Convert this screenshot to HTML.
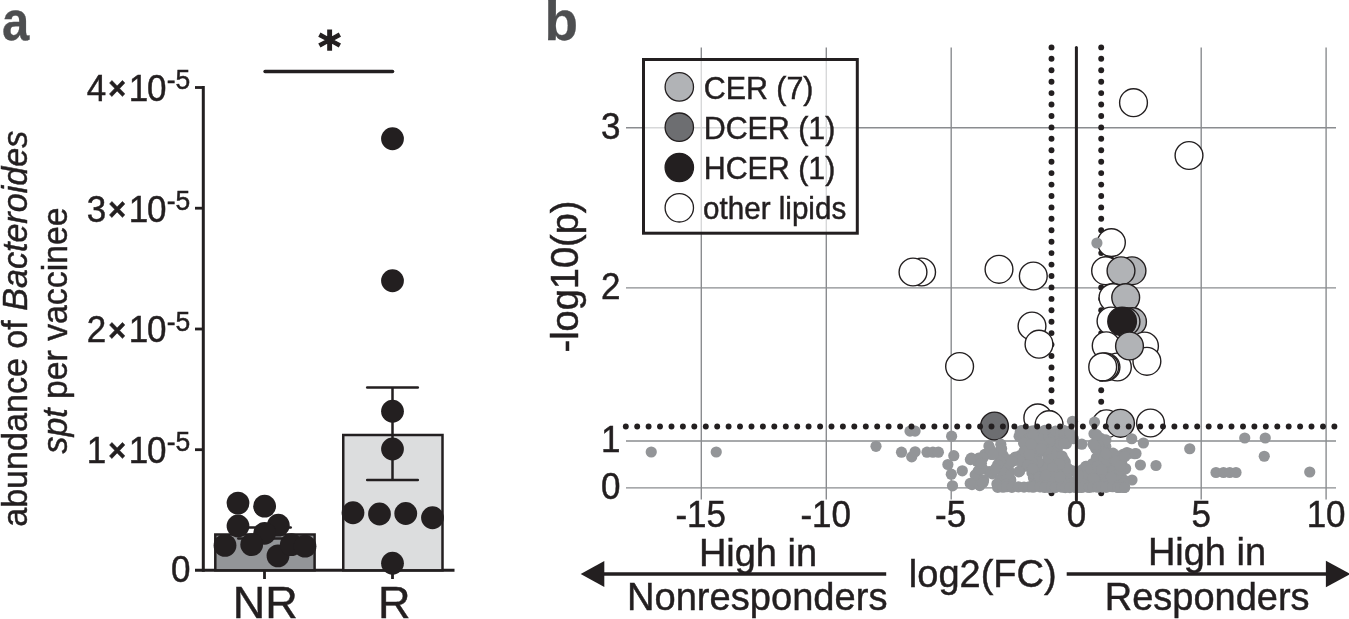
<!DOCTYPE html>
<html><head><meta charset="utf-8"><title>Figure</title>
<style>html,body{margin:0;padding:0;background:#fff;overflow:hidden}svg{display:block;font-family:"Liberation Sans",sans-serif}text{stroke:#231f20;stroke-width:.45px}text.pl{stroke:#4d4e50;stroke-width:.3px}</style>
</head><body>
<svg width="1349" height="619" viewBox="0 0 1349 619">
<rect width="1349" height="619" fill="#fff"/>
<text transform="translate(2.1,40.2) scale(0.875,0.985)" font-size="56" font-weight="bold" class="pl" fill="#4d4e50">a</text>
<text transform="translate(544.5,40.2) scale(0.98,0.985)" font-size="56" font-weight="bold" class="pl" fill="#4d4e50">b</text>
<text transform="translate(26.5,328.8) rotate(-90) scale(1,1.04)" font-size="34.1" text-anchor="middle" fill="#231f20">abundance of <tspan font-style="italic">Bacteroides</tspan></text>
<text transform="translate(66.5,330.5) rotate(-90) scale(1,1.04)" font-size="33.8" text-anchor="middle" fill="#231f20"><tspan font-style="italic">spt</tspan> per vaccinee</text>
<line x1="203.3" y1="86" x2="203.3" y2="571.8" stroke="#231f20" stroke-width="3"/>
<line x1="195" y1="570.3" x2="454.5" y2="570.3" stroke="#231f20" stroke-width="3"/>
<line x1="195" y1="87.5" x2="203.3" y2="87.5" stroke="#231f20" stroke-width="2.8"/>
<text transform="translate(0,100.9) scale(1,1.04)" font-size="35" fill="#231f20"><tspan x="86.8">4</tspan><tspan x="108.3" dy="-1.7" font-size="30.5" font-weight="bold">×</tspan><tspan x="128.85" dy="1.7">1</tspan><tspan x="147">0</tspan><tspan x="166.7" dy="-11.35" font-size="26.5">-5</tspan></text>
<line x1="195" y1="208.2" x2="203.3" y2="208.2" stroke="#231f20" stroke-width="2.8"/>
<text transform="translate(0,221.6) scale(1,1.04)" font-size="35" fill="#231f20"><tspan x="86.8">3</tspan><tspan x="108.3" dy="-1.7" font-size="30.5" font-weight="bold">×</tspan><tspan x="128.85" dy="1.7">1</tspan><tspan x="147">0</tspan><tspan x="166.7" dy="-11.35" font-size="26.5">-5</tspan></text>
<line x1="195" y1="329" x2="203.3" y2="329" stroke="#231f20" stroke-width="2.8"/>
<text transform="translate(0,342.4) scale(1,1.04)" font-size="35" fill="#231f20"><tspan x="86.8">2</tspan><tspan x="108.3" dy="-1.7" font-size="30.5" font-weight="bold">×</tspan><tspan x="128.85" dy="1.7">1</tspan><tspan x="147">0</tspan><tspan x="166.7" dy="-11.35" font-size="26.5">-5</tspan></text>
<line x1="195" y1="449.7" x2="203.3" y2="449.7" stroke="#231f20" stroke-width="2.8"/>
<text transform="translate(0,463.1) scale(1,1.04)" font-size="35" fill="#231f20"><tspan x="86.8">1</tspan><tspan x="108.3" dy="-1.7" font-size="30.5" font-weight="bold">×</tspan><tspan x="128.85" dy="1.7">1</tspan><tspan x="147">0</tspan><tspan x="166.7" dy="-11.35" font-size="26.5">-5</tspan></text>
<text transform="translate(190.5,582.4) scale(1,1.04)" font-size="35" text-anchor="end" fill="#231f20">0</text>
<line x1="264.5" y1="570" x2="264.5" y2="579" stroke="#231f20" stroke-width="2.8"/>
<line x1="392.5" y1="570" x2="392.5" y2="579" stroke="#231f20" stroke-width="2.8"/>
<rect x="215.3" y="534.5" width="99.30000000000001" height="35.799999999999955" fill="#939598" stroke="#231f20" stroke-width="2.5"/>
<rect x="343.25" y="435" width="99.25" height="135.29999999999995" fill="#dcddde" stroke="#231f20" stroke-width="2.5"/>
<line x1="264.5" y1="527.6" x2="264.5" y2="538.6" stroke="#231f20" stroke-width="2.5"/>
<line x1="238.3" y1="527.6" x2="290.7" y2="527.6" stroke="#231f20" stroke-width="2.5" stroke-linecap="round"/>
<line x1="238.3" y1="538.6" x2="290.7" y2="538.6" stroke="#231f20" stroke-width="2.5" stroke-linecap="round"/>
<line x1="392.5" y1="387.5" x2="392.5" y2="480" stroke="#231f20" stroke-width="2.5"/>
<line x1="367.2" y1="387.5" x2="417.8" y2="387.5" stroke="#231f20" stroke-width="2.5" stroke-linecap="round"/>
<line x1="367.2" y1="480" x2="417.8" y2="480" stroke="#231f20" stroke-width="2.5" stroke-linecap="round"/>
<circle cx="238" cy="503.1" r="11.4" fill="#231f20"/>
<circle cx="264.6" cy="506.2" r="11.4" fill="#231f20"/>
<circle cx="238" cy="526" r="11.4" fill="#231f20"/>
<circle cx="278.3" cy="525.2" r="11.4" fill="#231f20"/>
<circle cx="264.6" cy="533.3" r="11.4" fill="#231f20"/>
<circle cx="225" cy="545.4" r="11.4" fill="#231f20"/>
<circle cx="251.7" cy="544.6" r="11.4" fill="#231f20"/>
<circle cx="278" cy="555.9" r="11.4" fill="#231f20"/>
<circle cx="291.3" cy="544.6" r="11.4" fill="#231f20"/>
<circle cx="305" cy="546.2" r="11.4" fill="#231f20"/>
<circle cx="392.5" cy="138.75" r="11.4" fill="#231f20"/>
<circle cx="392.5" cy="280.75" r="11.4" fill="#231f20"/>
<circle cx="392.5" cy="411.25" r="11.4" fill="#231f20"/>
<circle cx="392.5" cy="449" r="11.4" fill="#231f20"/>
<circle cx="353" cy="512.75" r="11.4" fill="#231f20"/>
<circle cx="379.5" cy="514" r="11.4" fill="#231f20"/>
<circle cx="405.75" cy="513.5" r="11.4" fill="#231f20"/>
<circle cx="432.5" cy="517.75" r="11.4" fill="#231f20"/>
<circle cx="392.5" cy="563.25" r="11.4" fill="#231f20"/>
<text transform="translate(265.2,617.6) scale(1,0.985)" font-size="45" text-anchor="middle" fill="#231f20">NR</text>
<text transform="translate(394.2,617.6) scale(1,0.985)" font-size="45" text-anchor="middle" fill="#231f20">R</text>
<line x1="265.05" y1="71.5" x2="392.55" y2="71.5" stroke="#231f20" stroke-width="3.5" stroke-linecap="round"/>
<text x="318.2" y="61.6" font-size="43.5" font-weight="bold" font-family="DejaVu Sans, sans-serif" fill="#231f20" style="stroke-width:1.3px">*</text>
<line x1="701.3" y1="47.5" x2="701.3" y2="499.5" stroke="#8a8c8f" stroke-width="1.4"/>
<line x1="826.3" y1="47.5" x2="826.3" y2="499.5" stroke="#8a8c8f" stroke-width="1.4"/>
<line x1="951.2" y1="47.5" x2="951.2" y2="499.5" stroke="#8a8c8f" stroke-width="1.4"/>
<line x1="1201.2" y1="47.5" x2="1201.2" y2="499.5" stroke="#8a8c8f" stroke-width="1.4"/>
<line x1="1326.1" y1="47.5" x2="1326.1" y2="499.5" stroke="#8a8c8f" stroke-width="1.4"/>
<line x1="626" y1="127.7" x2="1336" y2="127.7" stroke="#8a8c8f" stroke-width="1.4"/>
<line x1="626" y1="287.9" x2="1336" y2="287.9" stroke="#8a8c8f" stroke-width="1.4"/>
<line x1="626" y1="441.0" x2="1336" y2="441.0" stroke="#8a8c8f" stroke-width="1.4"/>
<line x1="626" y1="487.9" x2="1336" y2="487.9" stroke="#8a8c8f" stroke-width="1.4"/>
<circle cx="1051.5" cy="47.4" r="2.95" fill="#231f20"/>
<circle cx="1051.5" cy="58.8" r="2.95" fill="#231f20"/>
<circle cx="1051.5" cy="70.3" r="2.95" fill="#231f20"/>
<circle cx="1051.5" cy="81.7" r="2.95" fill="#231f20"/>
<circle cx="1051.5" cy="93.1" r="2.95" fill="#231f20"/>
<circle cx="1051.5" cy="104.5" r="2.95" fill="#231f20"/>
<circle cx="1051.5" cy="116.0" r="2.95" fill="#231f20"/>
<circle cx="1051.5" cy="127.4" r="2.95" fill="#231f20"/>
<circle cx="1051.5" cy="138.8" r="2.95" fill="#231f20"/>
<circle cx="1051.5" cy="150.3" r="2.95" fill="#231f20"/>
<circle cx="1051.5" cy="161.7" r="2.95" fill="#231f20"/>
<circle cx="1051.5" cy="173.1" r="2.95" fill="#231f20"/>
<circle cx="1051.5" cy="184.6" r="2.95" fill="#231f20"/>
<circle cx="1051.5" cy="196.0" r="2.95" fill="#231f20"/>
<circle cx="1051.5" cy="207.4" r="2.95" fill="#231f20"/>
<circle cx="1051.5" cy="218.8" r="2.95" fill="#231f20"/>
<circle cx="1051.5" cy="230.3" r="2.95" fill="#231f20"/>
<circle cx="1051.5" cy="241.7" r="2.95" fill="#231f20"/>
<circle cx="1051.5" cy="253.1" r="2.95" fill="#231f20"/>
<circle cx="1051.5" cy="264.6" r="2.95" fill="#231f20"/>
<circle cx="1051.5" cy="276.0" r="2.95" fill="#231f20"/>
<circle cx="1051.5" cy="287.4" r="2.95" fill="#231f20"/>
<circle cx="1051.5" cy="298.9" r="2.95" fill="#231f20"/>
<circle cx="1051.5" cy="310.3" r="2.95" fill="#231f20"/>
<circle cx="1051.5" cy="321.7" r="2.95" fill="#231f20"/>
<circle cx="1051.5" cy="333.1" r="2.95" fill="#231f20"/>
<circle cx="1051.5" cy="344.6" r="2.95" fill="#231f20"/>
<circle cx="1051.5" cy="356.0" r="2.95" fill="#231f20"/>
<circle cx="1051.5" cy="367.4" r="2.95" fill="#231f20"/>
<circle cx="1051.5" cy="378.9" r="2.95" fill="#231f20"/>
<circle cx="1051.5" cy="390.3" r="2.95" fill="#231f20"/>
<circle cx="1051.5" cy="401.7" r="2.95" fill="#231f20"/>
<circle cx="1051.5" cy="413.2" r="2.95" fill="#231f20"/>
<circle cx="1051.5" cy="424.6" r="2.95" fill="#231f20"/>
<circle cx="1051.5" cy="436.0" r="2.95" fill="#231f20"/>
<circle cx="1051.5" cy="447.4" r="2.95" fill="#231f20"/>
<circle cx="1051.5" cy="458.9" r="2.95" fill="#231f20"/>
<circle cx="1051.5" cy="470.3" r="2.95" fill="#231f20"/>
<circle cx="1051.5" cy="481.7" r="2.95" fill="#231f20"/>
<circle cx="1051.5" cy="493.2" r="2.95" fill="#231f20"/>
<circle cx="1101.2" cy="47.4" r="2.95" fill="#231f20"/>
<circle cx="1101.2" cy="58.8" r="2.95" fill="#231f20"/>
<circle cx="1101.2" cy="70.3" r="2.95" fill="#231f20"/>
<circle cx="1101.2" cy="81.7" r="2.95" fill="#231f20"/>
<circle cx="1101.2" cy="93.1" r="2.95" fill="#231f20"/>
<circle cx="1101.2" cy="104.5" r="2.95" fill="#231f20"/>
<circle cx="1101.2" cy="116.0" r="2.95" fill="#231f20"/>
<circle cx="1101.2" cy="127.4" r="2.95" fill="#231f20"/>
<circle cx="1101.2" cy="138.8" r="2.95" fill="#231f20"/>
<circle cx="1101.2" cy="150.3" r="2.95" fill="#231f20"/>
<circle cx="1101.2" cy="161.7" r="2.95" fill="#231f20"/>
<circle cx="1101.2" cy="173.1" r="2.95" fill="#231f20"/>
<circle cx="1101.2" cy="184.6" r="2.95" fill="#231f20"/>
<circle cx="1101.2" cy="196.0" r="2.95" fill="#231f20"/>
<circle cx="1101.2" cy="207.4" r="2.95" fill="#231f20"/>
<circle cx="1101.2" cy="218.8" r="2.95" fill="#231f20"/>
<circle cx="1101.2" cy="230.3" r="2.95" fill="#231f20"/>
<circle cx="1101.2" cy="241.7" r="2.95" fill="#231f20"/>
<circle cx="1101.2" cy="253.1" r="2.95" fill="#231f20"/>
<circle cx="1101.2" cy="264.6" r="2.95" fill="#231f20"/>
<circle cx="1101.2" cy="276.0" r="2.95" fill="#231f20"/>
<circle cx="1101.2" cy="287.4" r="2.95" fill="#231f20"/>
<circle cx="1101.2" cy="298.9" r="2.95" fill="#231f20"/>
<circle cx="1101.2" cy="310.3" r="2.95" fill="#231f20"/>
<circle cx="1101.2" cy="321.7" r="2.95" fill="#231f20"/>
<circle cx="1101.2" cy="333.1" r="2.95" fill="#231f20"/>
<circle cx="1101.2" cy="344.6" r="2.95" fill="#231f20"/>
<circle cx="1101.2" cy="356.0" r="2.95" fill="#231f20"/>
<circle cx="1101.2" cy="367.4" r="2.95" fill="#231f20"/>
<circle cx="1101.2" cy="378.9" r="2.95" fill="#231f20"/>
<circle cx="1101.2" cy="390.3" r="2.95" fill="#231f20"/>
<circle cx="1101.2" cy="401.7" r="2.95" fill="#231f20"/>
<circle cx="1101.2" cy="413.2" r="2.95" fill="#231f20"/>
<circle cx="1101.2" cy="424.6" r="2.95" fill="#231f20"/>
<circle cx="1101.2" cy="436.0" r="2.95" fill="#231f20"/>
<circle cx="1101.2" cy="447.4" r="2.95" fill="#231f20"/>
<circle cx="1101.2" cy="458.9" r="2.95" fill="#231f20"/>
<circle cx="1101.2" cy="470.3" r="2.95" fill="#231f20"/>
<circle cx="1101.2" cy="481.7" r="2.95" fill="#231f20"/>
<circle cx="1101.2" cy="493.2" r="2.95" fill="#231f20"/>
<circle cx="1133.5" cy="102.7" r="13.9" fill="#fff" stroke="#231f20" stroke-width="1.4"/>
<circle cx="1189" cy="155.5" r="13.9" fill="#fff" stroke="#231f20" stroke-width="1.4"/>
<circle cx="921.6" cy="272" r="13.9" fill="#fff" stroke="#231f20" stroke-width="1.4"/>
<circle cx="913" cy="272" r="13.9" fill="#fff" stroke="#231f20" stroke-width="1.4"/>
<circle cx="999" cy="269.3" r="13.9" fill="#fff" stroke="#231f20" stroke-width="1.4"/>
<circle cx="1033.3" cy="276" r="13.9" fill="#fff" stroke="#231f20" stroke-width="1.4"/>
<circle cx="1032" cy="326" r="13.9" fill="#fff" stroke="#231f20" stroke-width="1.4"/>
<circle cx="1039" cy="344.2" r="13.9" fill="#fff" stroke="#231f20" stroke-width="1.4"/>
<circle cx="959.6" cy="366.5" r="13.9" fill="#fff" stroke="#231f20" stroke-width="1.4"/>
<circle cx="1111.4" cy="242.6" r="13.9" fill="#fff" stroke="#231f20" stroke-width="1.4"/>
<circle cx="1107.8" cy="270.8" r="13.9" fill="#fff" stroke="#231f20" stroke-width="1.4"/>
<circle cx="1106.7" cy="270.8" r="13.9" fill="#fff" stroke="#231f20" stroke-width="1.4"/>
<circle cx="1105.6" cy="270.8" r="13.9" fill="#fff" stroke="#231f20" stroke-width="1.4"/>
<circle cx="1132" cy="270.8" r="13.9" fill="#b1b3b6" stroke="#231f20" stroke-width="1.4"/>
<circle cx="1121" cy="270.8" r="13.9" fill="#b1b3b6" stroke="#231f20" stroke-width="1.4"/>
<circle cx="1113" cy="297.6" r="13.9" fill="#fff" stroke="#231f20" stroke-width="1.4"/>
<circle cx="1125.7" cy="297.6" r="13.9" fill="#b1b3b6" stroke="#231f20" stroke-width="1.4"/>
<circle cx="1111" cy="321" r="13.9" fill="#fff" stroke="#231f20" stroke-width="1.4"/>
<circle cx="1132.5" cy="321.7" r="13.9" fill="#b1b3b6" stroke="#231f20" stroke-width="1.4"/>
<circle cx="1126" cy="321.7" r="13.9" fill="#b1b3b6" stroke="#231f20" stroke-width="1.4"/>
<circle cx="1122.1" cy="321.4" r="14.3" fill="#231f20" stroke="#231f20" stroke-width="1.4"/>
<circle cx="1106.2" cy="345.8" r="13.9" fill="#fff" stroke="#231f20" stroke-width="1.4"/>
<circle cx="1144.5" cy="346" r="13.9" fill="#fff" stroke="#231f20" stroke-width="1.4"/>
<circle cx="1117.4" cy="367" r="13.9" fill="#fff" stroke="#231f20" stroke-width="1.4"/>
<circle cx="1106" cy="367" r="13.9" fill="#fff" stroke="#231f20" stroke-width="1.4"/>
<circle cx="1104.7" cy="367" r="13.9" fill="#fff" stroke="#231f20" stroke-width="1.4"/>
<circle cx="1146.9" cy="361.3" r="13.9" fill="#fff" stroke="#231f20" stroke-width="1.4"/>
<circle cx="1102.7" cy="366.9" r="13.9" fill="#fff" stroke="#231f20" stroke-width="1.4"/>
<circle cx="1129.5" cy="346" r="13.9" fill="#b1b3b6" stroke="#231f20" stroke-width="1.4"/>
<circle cx="1037.8" cy="417.9" r="13.9" fill="#fff" stroke="#231f20" stroke-width="1.4"/>
<circle cx="1049.1" cy="424.7" r="13.9" fill="#fff" stroke="#231f20" stroke-width="1.4"/>
<circle cx="1106.4" cy="423.8" r="13.9" fill="#fff" stroke="#231f20" stroke-width="1.4"/>
<circle cx="1120.5" cy="423.3" r="13.9" fill="#b1b3b6" stroke="#231f20" stroke-width="1.4"/>
<circle cx="1150.5" cy="423" r="13.9" fill="#fff" stroke="#231f20" stroke-width="1.4"/>
<circle cx="994.5" cy="426" r="13.9" fill="#6d6e71" stroke="#231f20" stroke-width="1.4"/>
<circle cx="1096.9" cy="243" r="5.6" fill="#939598"/>
<circle cx="651.25" cy="452" r="5.6" fill="#939598"/>
<circle cx="716.25" cy="452" r="5.6" fill="#939598"/>
<circle cx="876" cy="446.3" r="5.6" fill="#939598"/>
<circle cx="901.5" cy="452.2" r="5.6" fill="#939598"/>
<circle cx="911.7" cy="456.9" r="5.6" fill="#939598"/>
<circle cx="915.1" cy="451.8" r="5.6" fill="#939598"/>
<circle cx="910" cy="431.1" r="5.6" fill="#939598"/>
<circle cx="915.1" cy="431.1" r="5.6" fill="#939598"/>
<circle cx="927" cy="452.2" r="5.6" fill="#939598"/>
<circle cx="932.9" cy="452.2" r="5.6" fill="#939598"/>
<circle cx="938.4" cy="452.2" r="5.6" fill="#939598"/>
<circle cx="951.6" cy="436.2" r="5.6" fill="#939598"/>
<circle cx="953.8" cy="455.7" r="5.6" fill="#939598"/>
<circle cx="947.9" cy="464.5" r="5.6" fill="#939598"/>
<circle cx="951.3" cy="474.2" r="5.6" fill="#939598"/>
<circle cx="962.3" cy="470.8" r="5.6" fill="#939598"/>
<circle cx="952.5" cy="485.8" r="5.6" fill="#939598"/>
<circle cx="972" cy="484.6" r="5.6" fill="#939598"/>
<circle cx="983" cy="481.5" r="5.6" fill="#939598"/>
<circle cx="978.7" cy="458.1" r="5.6" fill="#939598"/>
<circle cx="988.9" cy="445.9" r="5.6" fill="#939598"/>
<circle cx="984.7" cy="454.4" r="5.6" fill="#939598"/>
<circle cx="992.3" cy="473.9" r="5.6" fill="#939598"/>
<circle cx="1000.8" cy="444.2" r="5.6" fill="#939598"/>
<circle cx="1189.75" cy="448.75" r="5.6" fill="#939598"/>
<circle cx="1244.75" cy="438" r="5.6" fill="#939598"/>
<circle cx="1265.25" cy="438" r="5.6" fill="#939598"/>
<circle cx="1264.25" cy="456.25" r="5.6" fill="#939598"/>
<circle cx="1309.75" cy="472" r="5.6" fill="#939598"/>
<circle cx="1216" cy="472.5" r="5.6" fill="#939598"/>
<circle cx="1223.5" cy="472.5" r="5.6" fill="#939598"/>
<circle cx="1229.75" cy="472.5" r="5.6" fill="#939598"/>
<circle cx="1236" cy="472.5" r="5.6" fill="#939598"/>
<circle cx="1140.4" cy="465" r="5.6" fill="#939598"/>
<circle cx="1156" cy="465.5" r="5.6" fill="#939598"/>
<circle cx="1143.4" cy="443" r="5.6" fill="#939598"/>
<circle cx="1131.7" cy="438.75" r="5.6" fill="#939598"/>
<circle cx="1134.7" cy="453.75" r="5.6" fill="#939598"/>
<circle cx="1127" cy="452.5" r="5.6" fill="#939598"/>
<circle cx="1132" cy="480" r="5.6" fill="#939598"/>
<circle cx="1124.6" cy="487.5" r="5.6" fill="#939598"/>
<circle cx="1072.5" cy="421.3" r="5.6" fill="#939598"/>
<circle cx="1094.5" cy="422.1" r="5.6" fill="#939598"/>
<circle cx="1081.8" cy="444.2" r="5.6" fill="#939598"/>
<circle cx="1129.3" cy="453.5" r="5.6" fill="#939598"/>
<circle cx="1136" cy="453.5" r="5.6" fill="#939598"/>
<circle cx="1040.8" cy="438.9" r="5.6" fill="#939598"/>
<circle cx="1007.3" cy="464.4" r="5.6" fill="#939598"/>
<circle cx="1004.7" cy="462.7" r="5.6" fill="#939598"/>
<circle cx="1053.5" cy="477.7" r="5.6" fill="#939598"/>
<circle cx="1079.1" cy="485.6" r="5.6" fill="#939598"/>
<circle cx="1123.0" cy="454.4" r="5.6" fill="#939598"/>
<circle cx="1108.2" cy="456.4" r="5.6" fill="#939598"/>
<circle cx="1038.9" cy="477.1" r="5.6" fill="#939598"/>
<circle cx="1022.8" cy="463.7" r="5.6" fill="#939598"/>
<circle cx="1069.0" cy="433.7" r="5.6" fill="#939598"/>
<circle cx="1085.7" cy="466.4" r="5.6" fill="#939598"/>
<circle cx="1039.6" cy="463.8" r="5.6" fill="#939598"/>
<circle cx="1057.1" cy="447.3" r="5.6" fill="#939598"/>
<circle cx="1100.1" cy="471.2" r="5.6" fill="#939598"/>
<circle cx="1030.8" cy="463.2" r="5.6" fill="#939598"/>
<circle cx="1066.2" cy="480.4" r="5.6" fill="#939598"/>
<circle cx="1123.5" cy="456.9" r="5.6" fill="#939598"/>
<circle cx="1052.7" cy="473.6" r="5.6" fill="#939598"/>
<circle cx="1019.2" cy="458.4" r="5.6" fill="#939598"/>
<circle cx="1004.9" cy="472.9" r="5.6" fill="#939598"/>
<circle cx="1096.3" cy="464.0" r="5.6" fill="#939598"/>
<circle cx="1110.3" cy="460.0" r="5.6" fill="#939598"/>
<circle cx="1087.6" cy="471.6" r="5.6" fill="#939598"/>
<circle cx="1105.8" cy="485.0" r="5.6" fill="#939598"/>
<circle cx="1059.7" cy="468.3" r="5.6" fill="#939598"/>
<circle cx="1007.6" cy="473.4" r="5.6" fill="#939598"/>
<circle cx="1081.5" cy="487.3" r="5.6" fill="#939598"/>
<circle cx="1103.6" cy="451.5" r="5.6" fill="#939598"/>
<circle cx="1048.6" cy="468.6" r="5.6" fill="#939598"/>
<circle cx="1002.8" cy="465.0" r="5.6" fill="#939598"/>
<circle cx="1021.2" cy="437.2" r="5.6" fill="#939598"/>
<circle cx="1007.4" cy="476.7" r="5.6" fill="#939598"/>
<circle cx="1049.3" cy="480.2" r="5.6" fill="#939598"/>
<circle cx="1010.2" cy="459.9" r="5.6" fill="#939598"/>
<circle cx="1069.2" cy="480.9" r="5.6" fill="#939598"/>
<circle cx="1103.2" cy="480.7" r="5.6" fill="#939598"/>
<circle cx="1035.1" cy="454.1" r="5.6" fill="#939598"/>
<circle cx="1045.2" cy="481.0" r="5.6" fill="#939598"/>
<circle cx="1120.7" cy="457.9" r="5.6" fill="#939598"/>
<circle cx="1029.4" cy="458.1" r="5.6" fill="#939598"/>
<circle cx="1000.5" cy="463.9" r="5.6" fill="#939598"/>
<circle cx="1046.5" cy="462.7" r="5.6" fill="#939598"/>
<circle cx="1120.1" cy="476.8" r="5.6" fill="#939598"/>
<circle cx="1077.8" cy="474.9" r="5.6" fill="#939598"/>
<circle cx="1006.8" cy="482.9" r="5.6" fill="#939598"/>
<circle cx="1098.3" cy="480.7" r="5.6" fill="#939598"/>
<circle cx="1100.5" cy="454.8" r="5.6" fill="#939598"/>
<circle cx="1050.3" cy="436.1" r="5.6" fill="#939598"/>
<circle cx="1019.1" cy="436.3" r="5.6" fill="#939598"/>
<circle cx="1045.8" cy="431.7" r="5.6" fill="#939598"/>
<circle cx="1110.2" cy="472.0" r="5.6" fill="#939598"/>
<circle cx="1043.8" cy="451.1" r="5.6" fill="#939598"/>
<circle cx="1125.1" cy="469.1" r="5.6" fill="#939598"/>
<circle cx="1061.0" cy="435.0" r="5.6" fill="#939598"/>
<circle cx="1033.4" cy="477.8" r="5.6" fill="#939598"/>
<circle cx="1020.3" cy="431.8" r="5.6" fill="#939598"/>
<circle cx="1068.4" cy="431.6" r="5.6" fill="#939598"/>
<circle cx="1066.5" cy="486.4" r="5.6" fill="#939598"/>
<circle cx="1108.8" cy="474.6" r="5.6" fill="#939598"/>
<circle cx="1032.9" cy="451.3" r="5.6" fill="#939598"/>
<circle cx="1067.1" cy="474.9" r="5.6" fill="#939598"/>
<circle cx="1041.5" cy="443.1" r="5.6" fill="#939598"/>
<circle cx="1102.3" cy="486.8" r="5.6" fill="#939598"/>
<circle cx="1107.4" cy="478.8" r="5.6" fill="#939598"/>
<circle cx="1103.1" cy="474.3" r="5.6" fill="#939598"/>
<circle cx="1028.6" cy="460.0" r="5.6" fill="#939598"/>
<circle cx="1044.8" cy="431.9" r="5.6" fill="#939598"/>
<circle cx="1003.5" cy="456.9" r="5.6" fill="#939598"/>
<circle cx="1032.7" cy="470.0" r="5.6" fill="#939598"/>
<circle cx="1120.5" cy="468.2" r="5.6" fill="#939598"/>
<circle cx="1118.1" cy="487.2" r="5.6" fill="#939598"/>
<circle cx="1045.9" cy="442.9" r="5.6" fill="#939598"/>
<circle cx="1028.6" cy="441.6" r="5.6" fill="#939598"/>
<circle cx="1025.8" cy="466.1" r="5.6" fill="#939598"/>
<circle cx="1113.4" cy="481.9" r="5.6" fill="#939598"/>
<circle cx="1060.4" cy="467.6" r="5.6" fill="#939598"/>
<circle cx="1100.8" cy="438.4" r="5.6" fill="#939598"/>
<circle cx="1083.2" cy="484.2" r="5.6" fill="#939598"/>
<circle cx="1098.6" cy="473.9" r="5.6" fill="#939598"/>
<circle cx="1060.2" cy="440.3" r="5.6" fill="#939598"/>
<circle cx="1099.4" cy="451.1" r="5.6" fill="#939598"/>
<circle cx="1100.9" cy="486.1" r="5.6" fill="#939598"/>
<circle cx="1049.9" cy="453.2" r="5.6" fill="#939598"/>
<circle cx="1114.0" cy="480.7" r="5.6" fill="#939598"/>
<circle cx="1069.1" cy="437.7" r="5.6" fill="#939598"/>
<circle cx="1001.8" cy="486.4" r="5.6" fill="#939598"/>
<circle cx="1081.9" cy="469.9" r="5.6" fill="#939598"/>
<circle cx="1117.6" cy="467.6" r="5.6" fill="#939598"/>
<circle cx="1109.8" cy="480.5" r="5.6" fill="#939598"/>
<circle cx="1026.6" cy="444.8" r="5.6" fill="#939598"/>
<circle cx="1036.9" cy="444.1" r="5.6" fill="#939598"/>
<circle cx="1052.8" cy="437.7" r="5.6" fill="#939598"/>
<circle cx="1114.7" cy="464.7" r="5.6" fill="#939598"/>
<circle cx="1057.7" cy="463.6" r="5.6" fill="#939598"/>
<circle cx="1113.9" cy="467.0" r="5.6" fill="#939598"/>
<circle cx="1115.6" cy="470.0" r="5.6" fill="#939598"/>
<circle cx="1002.4" cy="464.3" r="5.6" fill="#939598"/>
<circle cx="1023.1" cy="430.7" r="5.6" fill="#939598"/>
<circle cx="1100.7" cy="443.1" r="5.6" fill="#939598"/>
<circle cx="1059.7" cy="471.8" r="5.6" fill="#939598"/>
<circle cx="1065.3" cy="462.0" r="5.6" fill="#939598"/>
<circle cx="1098.8" cy="438.6" r="5.6" fill="#939598"/>
<circle cx="1034.9" cy="474.6" r="5.6" fill="#939598"/>
<circle cx="1064.0" cy="462.4" r="5.6" fill="#939598"/>
<circle cx="1095.8" cy="482.8" r="5.6" fill="#939598"/>
<circle cx="1055.8" cy="465.3" r="5.6" fill="#939598"/>
<circle cx="1063.7" cy="459.5" r="5.6" fill="#939598"/>
<circle cx="1087.3" cy="466.7" r="5.6" fill="#939598"/>
<circle cx="1118.6" cy="477.0" r="5.6" fill="#939598"/>
<circle cx="1118.7" cy="461.6" r="5.6" fill="#939598"/>
<circle cx="1070.5" cy="484.3" r="5.6" fill="#939598"/>
<circle cx="1105.8" cy="446.4" r="5.6" fill="#939598"/>
<circle cx="1015.3" cy="457.0" r="5.6" fill="#939598"/>
<circle cx="1009.2" cy="471.3" r="5.6" fill="#939598"/>
<circle cx="1098.8" cy="482.0" r="5.6" fill="#939598"/>
<circle cx="1019.5" cy="471.4" r="5.6" fill="#939598"/>
<circle cx="1111.2" cy="486.3" r="5.6" fill="#939598"/>
<circle cx="1050.2" cy="458.2" r="5.6" fill="#939598"/>
<circle cx="1054.4" cy="459.8" r="5.6" fill="#939598"/>
<circle cx="1042.7" cy="441.5" r="5.6" fill="#939598"/>
<circle cx="1040.1" cy="471.7" r="5.6" fill="#939598"/>
<circle cx="1002.5" cy="469.0" r="5.6" fill="#939598"/>
<circle cx="1055.5" cy="431.2" r="5.6" fill="#939598"/>
<circle cx="1041.8" cy="466.0" r="5.6" fill="#939598"/>
<circle cx="1064.5" cy="433.7" r="5.6" fill="#939598"/>
<circle cx="1124.1" cy="480.2" r="5.6" fill="#939598"/>
<circle cx="1005.0" cy="477.8" r="5.6" fill="#939598"/>
<circle cx="1034.1" cy="437.8" r="5.6" fill="#939598"/>
<circle cx="1053.2" cy="482.5" r="5.6" fill="#939598"/>
<circle cx="1103.2" cy="449.9" r="5.6" fill="#939598"/>
<circle cx="1071.9" cy="470.5" r="5.6" fill="#939598"/>
<circle cx="1086.7" cy="466.3" r="5.6" fill="#939598"/>
<circle cx="1009.1" cy="484.6" r="5.6" fill="#939598"/>
<circle cx="1079.9" cy="480.2" r="5.6" fill="#939598"/>
<circle cx="1010.6" cy="480.3" r="5.6" fill="#939598"/>
<circle cx="1008.4" cy="481.0" r="5.6" fill="#939598"/>
<circle cx="1057.2" cy="449.6" r="5.6" fill="#939598"/>
<circle cx="1069.7" cy="483.4" r="5.6" fill="#939598"/>
<circle cx="1033.8" cy="437.7" r="5.6" fill="#939598"/>
<circle cx="1066.4" cy="443.7" r="5.6" fill="#939598"/>
<circle cx="1039.3" cy="447.8" r="5.6" fill="#939598"/>
<circle cx="1095.7" cy="448.3" r="5.6" fill="#939598"/>
<circle cx="1063.0" cy="440.3" r="5.6" fill="#939598"/>
<circle cx="1043.7" cy="431.3" r="5.6" fill="#939598"/>
<circle cx="1031.6" cy="431.2" r="5.6" fill="#939598"/>
<circle cx="1092.4" cy="463.7" r="5.6" fill="#939598"/>
<circle cx="1023.9" cy="457.6" r="5.6" fill="#939598"/>
<circle cx="1117.8" cy="456.1" r="5.6" fill="#939598"/>
<circle cx="1103.2" cy="458.7" r="5.6" fill="#939598"/>
<circle cx="1062.4" cy="478.1" r="5.6" fill="#939598"/>
<circle cx="1049.5" cy="459.3" r="5.6" fill="#939598"/>
<circle cx="1086.7" cy="486.9" r="5.6" fill="#939598"/>
<circle cx="1043.2" cy="478.0" r="5.6" fill="#939598"/>
<circle cx="1089.0" cy="471.0" r="5.6" fill="#939598"/>
<circle cx="1051.0" cy="450.1" r="5.6" fill="#939598"/>
<circle cx="1008.9" cy="474.9" r="5.6" fill="#939598"/>
<circle cx="1032.2" cy="439.7" r="5.6" fill="#939598"/>
<circle cx="1010.6" cy="479.5" r="5.6" fill="#939598"/>
<circle cx="1109.7" cy="474.0" r="5.6" fill="#939598"/>
<circle cx="1035.5" cy="444.2" r="5.6" fill="#939598"/>
<circle cx="1036.9" cy="456.6" r="5.6" fill="#939598"/>
<circle cx="1019.8" cy="455.9" r="5.6" fill="#939598"/>
<circle cx="1033.2" cy="485.4" r="5.6" fill="#939598"/>
<circle cx="1121.7" cy="463.5" r="5.6" fill="#939598"/>
<circle cx="1044.9" cy="430.3" r="5.6" fill="#939598"/>
<circle cx="1048.1" cy="457.4" r="5.6" fill="#939598"/>
<circle cx="1063.3" cy="441.6" r="5.6" fill="#939598"/>
<circle cx="1063.6" cy="430.3" r="5.6" fill="#939598"/>
<circle cx="1033.3" cy="435.5" r="5.6" fill="#939598"/>
<circle cx="1050.3" cy="432.6" r="5.6" fill="#939598"/>
<circle cx="1002.8" cy="458.4" r="5.6" fill="#939598"/>
<circle cx="1029.3" cy="463.9" r="5.6" fill="#939598"/>
<circle cx="1066.7" cy="473.2" r="5.6" fill="#939598"/>
<circle cx="1082.9" cy="477.0" r="5.6" fill="#939598"/>
<circle cx="1110.8" cy="463.5" r="5.6" fill="#939598"/>
<circle cx="1041.1" cy="486.7" r="5.6" fill="#939598"/>
<circle cx="1018.8" cy="471.8" r="5.6" fill="#939598"/>
<circle cx="1105.2" cy="482.4" r="5.6" fill="#939598"/>
<circle cx="1079.0" cy="477.6" r="5.6" fill="#939598"/>
<circle cx="1102.3" cy="443.0" r="5.6" fill="#939598"/>
<circle cx="1105.2" cy="478.1" r="5.6" fill="#939598"/>
<circle cx="1104.1" cy="466.9" r="5.6" fill="#939598"/>
<circle cx="1112.5" cy="476.0" r="5.6" fill="#939598"/>
<circle cx="1045.4" cy="436.2" r="5.6" fill="#939598"/>
<circle cx="1105.3" cy="466.2" r="5.6" fill="#939598"/>
<circle cx="1079.1" cy="473.6" r="5.6" fill="#939598"/>
<circle cx="1085.8" cy="468.7" r="5.6" fill="#939598"/>
<circle cx="1000.4" cy="479.3" r="5.6" fill="#939598"/>
<circle cx="1067.4" cy="468.0" r="5.6" fill="#939598"/>
<circle cx="1008.3" cy="474.9" r="5.6" fill="#939598"/>
<circle cx="1031.8" cy="434.6" r="5.6" fill="#939598"/>
<circle cx="1033.5" cy="472.1" r="5.6" fill="#939598"/>
<circle cx="1122.9" cy="470.0" r="5.6" fill="#939598"/>
<circle cx="1048.2" cy="457.7" r="5.6" fill="#939598"/>
<circle cx="1086.1" cy="479.0" r="5.6" fill="#939598"/>
<circle cx="1077.7" cy="473.3" r="5.6" fill="#939598"/>
<circle cx="1032.0" cy="472.9" r="5.6" fill="#939598"/>
<circle cx="1038.4" cy="462.8" r="5.6" fill="#939598"/>
<circle cx="1001.6" cy="448.8" r="5.6" fill="#939598"/>
<circle cx="1033.9" cy="468.8" r="5.6" fill="#939598"/>
<circle cx="1087.2" cy="475.3" r="5.6" fill="#939598"/>
<circle cx="1036.6" cy="459.9" r="5.6" fill="#939598"/>
<circle cx="1058.5" cy="456.9" r="5.6" fill="#939598"/>
<circle cx="1057.8" cy="477.2" r="5.6" fill="#939598"/>
<circle cx="1122.0" cy="468.4" r="5.6" fill="#939598"/>
<circle cx="1033.9" cy="442.4" r="5.6" fill="#939598"/>
<circle cx="1119.1" cy="459.9" r="5.6" fill="#939598"/>
<circle cx="1073.3" cy="438.7" r="5.6" fill="#939598"/>
<circle cx="1066.0" cy="484.9" r="5.6" fill="#939598"/>
<circle cx="1064.1" cy="481.1" r="5.6" fill="#939598"/>
<circle cx="1113.1" cy="469.3" r="5.6" fill="#939598"/>
<circle cx="1062.0" cy="456.0" r="5.6" fill="#939598"/>
<circle cx="1038.0" cy="438.4" r="5.6" fill="#939598"/>
<circle cx="1043.3" cy="448.4" r="5.6" fill="#939598"/>
<circle cx="1105.9" cy="439.9" r="5.6" fill="#939598"/>
<circle cx="1094.6" cy="478.7" r="5.6" fill="#939598"/>
<circle cx="1089.8" cy="482.8" r="5.6" fill="#939598"/>
<circle cx="1036.5" cy="451.6" r="5.6" fill="#939598"/>
<circle cx="1049.5" cy="487.5" r="5.6" fill="#939598"/>
<circle cx="1053.9" cy="446.0" r="5.6" fill="#939598"/>
<circle cx="1105.2" cy="452.9" r="5.6" fill="#939598"/>
<circle cx="1117.9" cy="461.2" r="5.6" fill="#939598"/>
<circle cx="1033.5" cy="459.6" r="5.6" fill="#939598"/>
<circle cx="1023.9" cy="451.8" r="5.6" fill="#939598"/>
<circle cx="1120.5" cy="483.5" r="5.6" fill="#939598"/>
<circle cx="1079.5" cy="484.4" r="5.6" fill="#939598"/>
<circle cx="1118.5" cy="471.7" r="5.6" fill="#939598"/>
<circle cx="1006.2" cy="475.3" r="5.6" fill="#939598"/>
<circle cx="1056.8" cy="473.4" r="5.6" fill="#939598"/>
<circle cx="1006.2" cy="484.3" r="5.6" fill="#939598"/>
<circle cx="1016.0" cy="458.4" r="5.6" fill="#939598"/>
<circle cx="1043.3" cy="447.3" r="5.6" fill="#939598"/>
<circle cx="1093.1" cy="486.3" r="5.6" fill="#939598"/>
<circle cx="1032.8" cy="467.9" r="5.6" fill="#939598"/>
<circle cx="1037.9" cy="462.2" r="5.6" fill="#939598"/>
<circle cx="1049.7" cy="439.8" r="5.6" fill="#939598"/>
<circle cx="1114.2" cy="469.7" r="5.6" fill="#939598"/>
<circle cx="1125.6" cy="468.5" r="5.6" fill="#939598"/>
<circle cx="1032.6" cy="463.0" r="5.6" fill="#939598"/>
<circle cx="1111.8" cy="478.2" r="5.6" fill="#939598"/>
<circle cx="1052.0" cy="453.9" r="5.6" fill="#939598"/>
<circle cx="1042.6" cy="433.8" r="5.6" fill="#939598"/>
<circle cx="1035.0" cy="485.7" r="5.6" fill="#939598"/>
<circle cx="1015.9" cy="460.2" r="5.6" fill="#939598"/>
<circle cx="1079.3" cy="482.5" r="5.6" fill="#939598"/>
<circle cx="1027.2" cy="445.9" r="5.6" fill="#939598"/>
<circle cx="1031.3" cy="453.2" r="5.6" fill="#939598"/>
<circle cx="1056.2" cy="485.0" r="5.6" fill="#939598"/>
<circle cx="1106.9" cy="481.8" r="5.6" fill="#939598"/>
<circle cx="1089.4" cy="482.7" r="5.6" fill="#939598"/>
<circle cx="1059.6" cy="463.9" r="5.6" fill="#939598"/>
<circle cx="1000.0" cy="462.9" r="5.6" fill="#939598"/>
<circle cx="1116.8" cy="481.4" r="5.6" fill="#939598"/>
<circle cx="1107.8" cy="486.4" r="5.6" fill="#939598"/>
<circle cx="1031.3" cy="436.6" r="5.6" fill="#939598"/>
<circle cx="1019.5" cy="460.3" r="5.6" fill="#939598"/>
<circle cx="1085.9" cy="485.4" r="5.6" fill="#939598"/>
<circle cx="1090.9" cy="469.6" r="5.6" fill="#939598"/>
<circle cx="1096.4" cy="457.6" r="5.6" fill="#939598"/>
<circle cx="1069.5" cy="432.5" r="5.6" fill="#939598"/>
<circle cx="1098.6" cy="445.5" r="5.6" fill="#939598"/>
<circle cx="1115.9" cy="475.1" r="5.6" fill="#939598"/>
<circle cx="1038.3" cy="437.6" r="5.6" fill="#939598"/>
<circle cx="1031.7" cy="466.8" r="5.6" fill="#939598"/>
<circle cx="1008.9" cy="464.4" r="5.6" fill="#939598"/>
<circle cx="1028.2" cy="464.8" r="5.6" fill="#939598"/>
<circle cx="1001.3" cy="458.8" r="5.6" fill="#939598"/>
<circle cx="1058.0" cy="485.2" r="5.6" fill="#939598"/>
<circle cx="1081.2" cy="483.3" r="5.6" fill="#939598"/>
<circle cx="1059.9" cy="443.6" r="5.6" fill="#939598"/>
<circle cx="1002.7" cy="466.6" r="5.6" fill="#939598"/>
<circle cx="1032.4" cy="468.6" r="5.6" fill="#939598"/>
<circle cx="1116.6" cy="460.3" r="5.6" fill="#939598"/>
<circle cx="1004.3" cy="458.8" r="5.6" fill="#939598"/>
<circle cx="1053.0" cy="469.4" r="5.6" fill="#939598"/>
<circle cx="1039.3" cy="477.3" r="5.6" fill="#939598"/>
<circle cx="1029.1" cy="443.1" r="5.6" fill="#939598"/>
<circle cx="1095.8" cy="448.6" r="5.6" fill="#939598"/>
<circle cx="1119.9" cy="469.9" r="5.6" fill="#939598"/>
<circle cx="1023.6" cy="443.2" r="5.6" fill="#939598"/>
<circle cx="1052.5" cy="468.4" r="5.6" fill="#939598"/>
<circle cx="1119.5" cy="457.6" r="5.6" fill="#939598"/>
<circle cx="1049.6" cy="442.4" r="5.6" fill="#939598"/>
<circle cx="1122.7" cy="457.7" r="5.6" fill="#939598"/>
<circle cx="1049.6" cy="481.8" r="5.6" fill="#939598"/>
<circle cx="1111.3" cy="477.3" r="5.6" fill="#939598"/>
<circle cx="1094.0" cy="433.8" r="5.6" fill="#939598"/>
<circle cx="1047.1" cy="449.2" r="5.6" fill="#939598"/>
<circle cx="1021.3" cy="430.6" r="5.6" fill="#939598"/>
<circle cx="1035.3" cy="450.5" r="5.6" fill="#939598"/>
<circle cx="1120.4" cy="456.9" r="5.6" fill="#939598"/>
<circle cx="1121.5" cy="459.9" r="5.6" fill="#939598"/>
<circle cx="1044.9" cy="477.4" r="5.6" fill="#939598"/>
<circle cx="1103.6" cy="459.0" r="5.6" fill="#939598"/>
<circle cx="1006.2" cy="463.5" r="5.6" fill="#939598"/>
<circle cx="1047.0" cy="483.0" r="5.6" fill="#939598"/>
<circle cx="1024.3" cy="451.3" r="5.6" fill="#939598"/>
<circle cx="1113.0" cy="453.1" r="5.6" fill="#939598"/>
<circle cx="1051.8" cy="476.8" r="5.6" fill="#939598"/>
<circle cx="1096.6" cy="434.7" r="5.6" fill="#939598"/>
<circle cx="1115.9" cy="461.3" r="5.6" fill="#939598"/>
<circle cx="1094.2" cy="482.0" r="5.6" fill="#939598"/>
<circle cx="1042.7" cy="445.9" r="5.6" fill="#939598"/>
<circle cx="1034.7" cy="430.5" r="5.6" fill="#939598"/>
<circle cx="1095.2" cy="483.0" r="5.6" fill="#939598"/>
<circle cx="1079.9" cy="485.5" r="5.6" fill="#939598"/>
<circle cx="1003.1" cy="455.4" r="5.6" fill="#939598"/>
<circle cx="1059.9" cy="485.1" r="5.6" fill="#939598"/>
<circle cx="1120.2" cy="466.1" r="5.6" fill="#939598"/>
<circle cx="1031.6" cy="455.0" r="5.6" fill="#939598"/>
<circle cx="1062.2" cy="483.5" r="5.6" fill="#939598"/>
<circle cx="1093.0" cy="478.0" r="5.6" fill="#939598"/>
<circle cx="1097.4" cy="466.0" r="5.6" fill="#939598"/>
<circle cx="1041.3" cy="448.6" r="5.6" fill="#939598"/>
<circle cx="1045.6" cy="475.1" r="5.6" fill="#939598"/>
<circle cx="1094.9" cy="445.9" r="5.6" fill="#939598"/>
<circle cx="1123.5" cy="483.5" r="5.6" fill="#939598"/>
<circle cx="1033.4" cy="435.2" r="5.6" fill="#939598"/>
<circle cx="1012.1" cy="461.5" r="5.6" fill="#939598"/>
<circle cx="1029.5" cy="454.2" r="5.6" fill="#939598"/>
<circle cx="1078.2" cy="475.3" r="5.6" fill="#939598"/>
<circle cx="1094.2" cy="479.1" r="5.6" fill="#939598"/>
<circle cx="1105.9" cy="453.9" r="5.6" fill="#939598"/>
<circle cx="1093.0" cy="444.3" r="5.6" fill="#939598"/>
<circle cx="1031.2" cy="444.4" r="5.6" fill="#939598"/>
<circle cx="1049.9" cy="487.2" r="5.6" fill="#939598"/>
<circle cx="1063.9" cy="443.4" r="5.6" fill="#939598"/>
<circle cx="1101.9" cy="469.4" r="5.6" fill="#939598"/>
<circle cx="1124.9" cy="456.5" r="5.6" fill="#939598"/>
<circle cx="1059.8" cy="477.2" r="5.6" fill="#939598"/>
<circle cx="996.9" cy="483.9" r="5.6" fill="#939598"/>
<circle cx="971.3" cy="458.2" r="5.6" fill="#939598"/>
<circle cx="1001.1" cy="470.2" r="5.6" fill="#939598"/>
<circle cx="999.8" cy="461.4" r="5.6" fill="#939598"/>
<circle cx="997.7" cy="464.6" r="5.6" fill="#939598"/>
<circle cx="978.3" cy="478.3" r="5.6" fill="#939598"/>
<circle cx="1000.3" cy="450.4" r="5.6" fill="#939598"/>
<circle cx="989.1" cy="471.7" r="5.6" fill="#939598"/>
<circle cx="977.0" cy="461.3" r="5.6" fill="#939598"/>
<circle cx="978.2" cy="470.9" r="5.6" fill="#939598"/>
<circle cx="990.9" cy="454.4" r="5.6" fill="#939598"/>
<circle cx="970.4" cy="459.6" r="5.6" fill="#939598"/>
<circle cx="991.7" cy="453.7" r="5.6" fill="#939598"/>
<circle cx="995.4" cy="468.7" r="5.6" fill="#939598"/>
<circle cx="982.6" cy="468.8" r="5.6" fill="#939598"/>
<circle cx="990.5" cy="449.8" r="5.6" fill="#939598"/>
<circle cx="975.2" cy="474.9" r="5.6" fill="#939598"/>
<circle cx="983.1" cy="457.8" r="5.6" fill="#939598"/>
<circle cx="979.8" cy="485.6" r="5.6" fill="#939598"/>
<circle cx="980.0" cy="469.5" r="5.6" fill="#939598"/>
<circle cx="981.4" cy="463.3" r="5.6" fill="#939598"/>
<circle cx="997.7" cy="487.4" r="5.6" fill="#939598"/>
<circle cx="993.3" cy="454.5" r="5.6" fill="#939598"/>
<circle cx="970.2" cy="483.4" r="5.6" fill="#939598"/>
<circle cx="983.6" cy="480.0" r="5.6" fill="#939598"/>
<circle cx="983.0" cy="482.6" r="5.6" fill="#939598"/>
<circle cx="1003" cy="487.2" r="5.6" fill="#939598"/>
<circle cx="1006.7" cy="486.7" r="5.6" fill="#939598"/>
<circle cx="1011.9" cy="487.3" r="5.6" fill="#939598"/>
<circle cx="1018.5" cy="486.8" r="5.6" fill="#939598"/>
<circle cx="1024.0" cy="487.1" r="5.6" fill="#939598"/>
<circle cx="1029.0" cy="486.8" r="5.6" fill="#939598"/>
<circle cx="1033.1" cy="487.2" r="5.6" fill="#939598"/>
<circle cx="1039.8" cy="486.8" r="5.6" fill="#939598"/>
<circle cx="1044.8" cy="487.5" r="5.6" fill="#939598"/>
<circle cx="1051.7" cy="486.9" r="5.6" fill="#939598"/>
<circle cx="1055.2" cy="487.6" r="5.6" fill="#939598"/>
<circle cx="1062.1" cy="487.2" r="5.6" fill="#939598"/>
<circle cx="1065.3" cy="487.6" r="5.6" fill="#939598"/>
<circle cx="1069.8" cy="487.6" r="5.6" fill="#939598"/>
<circle cx="1075.3" cy="487.5" r="5.6" fill="#939598"/>
<circle cx="1079.0" cy="487.5" r="5.6" fill="#939598"/>
<circle cx="1082.9" cy="487.1" r="5.6" fill="#939598"/>
<circle cx="1089.2" cy="487.5" r="5.6" fill="#939598"/>
<circle cx="1093.0" cy="486.9" r="5.6" fill="#939598"/>
<circle cx="1097.6" cy="487.2" r="5.6" fill="#939598"/>
<circle cx="1102.1" cy="486.8" r="5.6" fill="#939598"/>
<circle cx="1106.1" cy="487.4" r="5.6" fill="#939598"/>
<circle cx="1112.7" cy="486.7" r="5.6" fill="#939598"/>
<circle cx="1117.9" cy="487.5" r="5.6" fill="#939598"/>
<circle cx="1121.1" cy="487.5" r="5.6" fill="#939598"/>
<circle cx="1124.6" cy="487.3" r="5.6" fill="#939598"/>
<circle cx="625.8" cy="426.5" r="2.95" fill="#231f20"/>
<circle cx="637.2" cy="426.5" r="2.95" fill="#231f20"/>
<circle cx="648.6" cy="426.5" r="2.95" fill="#231f20"/>
<circle cx="660.0" cy="426.5" r="2.95" fill="#231f20"/>
<circle cx="671.5" cy="426.5" r="2.95" fill="#231f20"/>
<circle cx="682.9" cy="426.5" r="2.95" fill="#231f20"/>
<circle cx="694.3" cy="426.5" r="2.95" fill="#231f20"/>
<circle cx="705.8" cy="426.5" r="2.95" fill="#231f20"/>
<circle cx="717.2" cy="426.5" r="2.95" fill="#231f20"/>
<circle cx="728.6" cy="426.5" r="2.95" fill="#231f20"/>
<circle cx="740.0" cy="426.5" r="2.95" fill="#231f20"/>
<circle cx="751.5" cy="426.5" r="2.95" fill="#231f20"/>
<circle cx="762.9" cy="426.5" r="2.95" fill="#231f20"/>
<circle cx="774.3" cy="426.5" r="2.95" fill="#231f20"/>
<circle cx="785.8" cy="426.5" r="2.95" fill="#231f20"/>
<circle cx="797.2" cy="426.5" r="2.95" fill="#231f20"/>
<circle cx="808.6" cy="426.5" r="2.95" fill="#231f20"/>
<circle cx="820.1" cy="426.5" r="2.95" fill="#231f20"/>
<circle cx="831.5" cy="426.5" r="2.95" fill="#231f20"/>
<circle cx="842.9" cy="426.5" r="2.95" fill="#231f20"/>
<circle cx="854.3" cy="426.5" r="2.95" fill="#231f20"/>
<circle cx="865.8" cy="426.5" r="2.95" fill="#231f20"/>
<circle cx="877.2" cy="426.5" r="2.95" fill="#231f20"/>
<circle cx="888.6" cy="426.5" r="2.95" fill="#231f20"/>
<circle cx="900.1" cy="426.5" r="2.95" fill="#231f20"/>
<circle cx="911.5" cy="426.5" r="2.95" fill="#231f20"/>
<circle cx="922.9" cy="426.5" r="2.95" fill="#231f20"/>
<circle cx="934.4" cy="426.5" r="2.95" fill="#231f20"/>
<circle cx="945.8" cy="426.5" r="2.95" fill="#231f20"/>
<circle cx="957.2" cy="426.5" r="2.95" fill="#231f20"/>
<circle cx="968.6" cy="426.5" r="2.95" fill="#231f20"/>
<circle cx="980.1" cy="426.5" r="2.95" fill="#231f20"/>
<circle cx="991.5" cy="426.5" r="2.95" fill="#231f20"/>
<circle cx="1002.9" cy="426.5" r="2.95" fill="#231f20"/>
<circle cx="1014.4" cy="426.5" r="2.95" fill="#231f20"/>
<circle cx="1025.8" cy="426.5" r="2.95" fill="#231f20"/>
<circle cx="1037.2" cy="426.5" r="2.95" fill="#231f20"/>
<circle cx="1048.7" cy="426.5" r="2.95" fill="#231f20"/>
<circle cx="1060.1" cy="426.5" r="2.95" fill="#231f20"/>
<circle cx="1071.5" cy="426.5" r="2.95" fill="#231f20"/>
<circle cx="1082.9" cy="426.5" r="2.95" fill="#231f20"/>
<circle cx="1094.4" cy="426.5" r="2.95" fill="#231f20"/>
<circle cx="1105.8" cy="426.5" r="2.95" fill="#231f20"/>
<circle cx="1117.2" cy="426.5" r="2.95" fill="#231f20"/>
<circle cx="1128.7" cy="426.5" r="2.95" fill="#231f20"/>
<circle cx="1140.1" cy="426.5" r="2.95" fill="#231f20"/>
<circle cx="1151.5" cy="426.5" r="2.95" fill="#231f20"/>
<circle cx="1163.0" cy="426.5" r="2.95" fill="#231f20"/>
<circle cx="1174.4" cy="426.5" r="2.95" fill="#231f20"/>
<circle cx="1185.8" cy="426.5" r="2.95" fill="#231f20"/>
<circle cx="1197.2" cy="426.5" r="2.95" fill="#231f20"/>
<circle cx="1208.7" cy="426.5" r="2.95" fill="#231f20"/>
<circle cx="1220.1" cy="426.5" r="2.95" fill="#231f20"/>
<circle cx="1231.5" cy="426.5" r="2.95" fill="#231f20"/>
<circle cx="1243.0" cy="426.5" r="2.95" fill="#231f20"/>
<circle cx="1254.4" cy="426.5" r="2.95" fill="#231f20"/>
<circle cx="1265.8" cy="426.5" r="2.95" fill="#231f20"/>
<circle cx="1277.3" cy="426.5" r="2.95" fill="#231f20"/>
<circle cx="1288.7" cy="426.5" r="2.95" fill="#231f20"/>
<circle cx="1300.1" cy="426.5" r="2.95" fill="#231f20"/>
<circle cx="1311.5" cy="426.5" r="2.95" fill="#231f20"/>
<circle cx="1323.0" cy="426.5" r="2.95" fill="#231f20"/>
<circle cx="1334.4" cy="426.5" r="2.95" fill="#231f20"/>
<line x1="1076.4" y1="47.6" x2="1076.4" y2="500" stroke="#231f20" stroke-width="3.0" stroke-linecap="round"/>
<rect x="643.5" y="59.5" width="213.8" height="173.7" fill="#fff" fill-opacity="0.66" stroke="#231f20" stroke-width="3"/>
<circle cx="679.3" cy="86.9" r="14.2" fill="#b1b3b6" stroke="#231f20" stroke-width="1.3"/>
<text transform="translate(703.7,98.8) scale(1,1.04)" font-size="30.4" fill="#231f20">CER (7)</text>
<circle cx="679.3" cy="127.2" r="14.2" fill="#6d6e71" stroke="#231f20" stroke-width="1.3"/>
<text transform="translate(703.7,138.7) scale(1,1.04)" font-size="30.4" fill="#231f20">DCER (1)</text>
<circle cx="679.3" cy="167.5" r="14.2" fill="#231f20" stroke="#231f20" stroke-width="1.3"/>
<text transform="translate(703.7,178.6) scale(1,1.04)" font-size="30.4" fill="#231f20">HCER (1)</text>
<circle cx="679.3" cy="207.8" r="14.2" fill="#fff" stroke="#231f20" stroke-width="1.3"/>
<text transform="translate(703.1,218.5) scale(1,1.04)" font-size="29.6" fill="#231f20">other lipids</text>
<text transform="translate(700.6999999999999,527.4) scale(1,1.04)" font-size="35" text-anchor="middle" fill="#231f20">-15</text>
<text transform="translate(825.6999999999999,527.4) scale(1,1.04)" font-size="35" text-anchor="middle" fill="#231f20">-10</text>
<text transform="translate(950.6,527.4) scale(1,1.04)" font-size="35" text-anchor="middle" fill="#231f20">-5</text>
<text transform="translate(1076.4,527.4) scale(1,1.04)" font-size="35" text-anchor="middle" fill="#231f20">0</text>
<text transform="translate(1201.2,527.4) scale(1,1.04)" font-size="35" text-anchor="middle" fill="#231f20">5</text>
<text transform="translate(1326.1,527.4) scale(1,1.04)" font-size="35" text-anchor="middle" fill="#231f20">10</text>
<text transform="translate(620.5,138.5) scale(1,1.04)" font-size="35" text-anchor="end" fill="#231f20">3</text>
<text transform="translate(620.5,298.5) scale(1,1.04)" font-size="35" text-anchor="end" fill="#231f20">2</text>
<text transform="translate(620.5,452) scale(1,1.04)" font-size="35" text-anchor="end" fill="#231f20">1</text>
<text transform="translate(620.5,499) scale(1,1.04)" font-size="35" text-anchor="end" fill="#231f20">0</text>
<text transform="translate(578.3,276.5) rotate(-90) scale(1,1.04)" font-size="38" text-anchor="middle" fill="#231f20">-log10(p)</text>
<line x1="600" y1="574" x2="886.2" y2="574" stroke="#231f20" stroke-width="3.5"/>
<polygon points="580.7,574 604.3,561.1 604.3,586.9" fill="#231f20"/>
<line x1="1066.7" y1="574" x2="1330" y2="574" stroke="#231f20" stroke-width="3.5"/>
<polygon points="1350.5,574 1325.9,560.8 1325.9,587.2" fill="#231f20"/>
<text transform="translate(758,565.5) scale(1,1.04)" font-size="38" text-anchor="middle" fill="#231f20">High in</text>
<text transform="translate(757.2,610.3) scale(1,1.04)" font-size="38.1" text-anchor="middle" fill="#231f20">Nonresponders</text>
<text transform="translate(982.7,586.5) scale(1,1.04)" font-size="38" text-anchor="middle" fill="#231f20">log2(FC)</text>
<text transform="translate(1207,565.2) scale(1,1.04)" font-size="38" text-anchor="middle" fill="#231f20">High in</text>
<text transform="translate(1207.2,609.6) scale(1,1.04)" font-size="38" text-anchor="middle" fill="#231f20">Responders</text>
</svg>
</body></html>
